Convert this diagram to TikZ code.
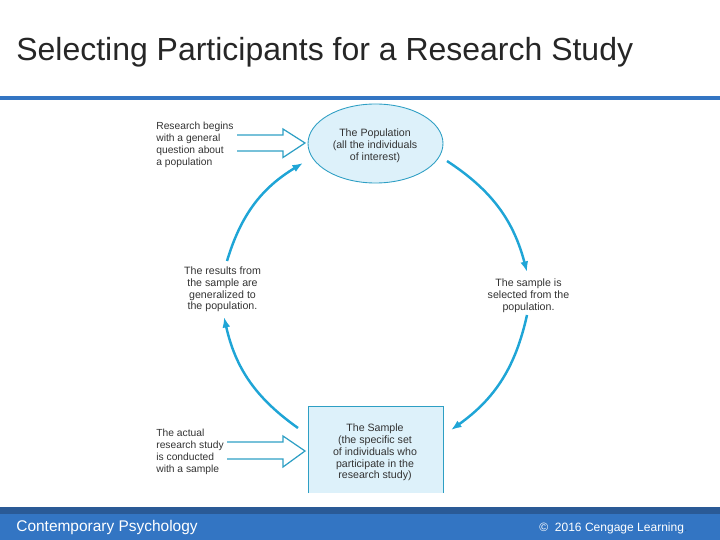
\documentclass[tikz,border=0pt]{standalone}
\usepackage{fontspec}
\setmainfont{Liberation Sans}
\usepackage{xcolor}
\usetikzlibrary{shapes,arrows,arrows.meta,positioning}
\definecolor{barblue}{HTML}{3375C3}
\definecolor{bardark}{HTML}{2A5A96}
\definecolor{linecyan}{HTML}{1FA5D6}
\definecolor{hollowcyan}{HTML}{2E9FC4}
\definecolor{paleblue}{HTML}{DDF1FA}
\definecolor{titlegray}{HTML}{262626}
\tikzset{
    caption/.style={inner sep=0pt, align=center, font=\fontsize{6.05}{6.72}\selectfont, text=black!80},
    sidenote/.style={caption, align=left, font=\fontsize{5.85}{6.72}\selectfont},
    cycle/.style={-{Latex[length=6pt,width=4.5pt]}, line width=1.4pt, linecyan},
    hollow/.style={line width=0.7pt, hollowcyan, line join=miter},
    holder/.style={draw=hollowcyan, line width=0.5pt, fill=paleblue},
}
\begin{document}
\begin{tikzpicture}[x=0.02cm, y=-0.02cm]
    \useasboundingbox (0,0) rectangle (720,540);
    % Title and bars
    \node[inner sep=0pt, anchor=west, text=titlegray, font=\fontsize{18.2}{21}\selectfont] (title) at (16,52) {Selecting Participants for a Research Study};
    \fill[barblue] (0,96) rectangle (720,100);
    \fill[bardark] (0,507) rectangle (720,514);
    \fill[barblue] (0,514) rectangle (720,540);
    \node[inner sep=0pt, anchor=west, text=white, font=\fontsize{8.8}{12}\selectfont] (book) at (16,528) {Contemporary Psychology};
    \node[inner sep=0pt, anchor=west, text=white, font=\fontsize{6.85}{10}\selectfont] (credit) at (539,528) {©\ \ 2016 Cengage Learning\textcolor{bardark}{.}};

    % Holders
    \node[ellipse, holder, minimum width=135*0.02cm, minimum height=79*0.02cm, inner sep=0pt] (population) at (375.5,143.5) {};
    \node[caption] (poptext) at (375,146) {The Population\\(all the individuals\\of interest)};
    \fill[paleblue] (308,406) rectangle (443,493);
    \draw[draw=hollowcyan, line width=0.5pt] (308,493) -- (308,406) -- (443,406) -- (443,493);
    \node[caption] (sample) at (375,452.5) {The Sample\\(the specific set\\of individuals who\\participate in the\\research study)};

    % Captions
    \node[sidenote, anchor=west] (begins) at (156,145) {Research begins\\with a general\\question about\\a population};
    \node[sidenote, anchor=west] (actual) at (156,452) {The actual\\research study\\is conducted\\with a sample};
    \node[caption] (results) at (222.5,289.5) {The results from\\the sample are\\generalized to\\the population.};
    \node[caption] (selected) at (528.5,295.5) {The sample is\\selected from the\\population.};

    % Cycle
    \coordinate (popright) at (447,161);
    \coordinate (selecttip) at (527,272);
    \coordinate (selectlow) at (527,315);
    \coordinate (sampleright) at (451,430);
    \coordinate (sampleleft) at (298,428);
    \coordinate (resultlow) at (224,317);
    \coordinate (resulttop) at (227,261);
    \coordinate (popleft) at (303,163);
    \draw[cycle] (popright) to[bend left=21] (selecttip);
    \draw[cycle] (selectlow) to[bend left=21] (sampleright);
    \draw[cycle] (sampleleft) to[bend left=21] (resultlow);
    \draw[cycle] (resulttop) to[bend left=21] (popleft);

    % Hollow arrows
    \coordinate (begintail) at (237,135);
    \coordinate (actualtail) at (227,442);
    \draw[hollow] (begintail) -- ++(46,0) -- ++(0,-6) -- ++(22,14) -- ++(-22,14.5) -- ++(0,-6.5) -- ++(-46,0);
    \draw[hollow] (actualtail) -- ++(56,0) -- ++(0,-6) -- ++(22,15) -- ++(-22,16) -- ++(0,-8) -- ++(-56,0);
\end{tikzpicture}
\end{document}
